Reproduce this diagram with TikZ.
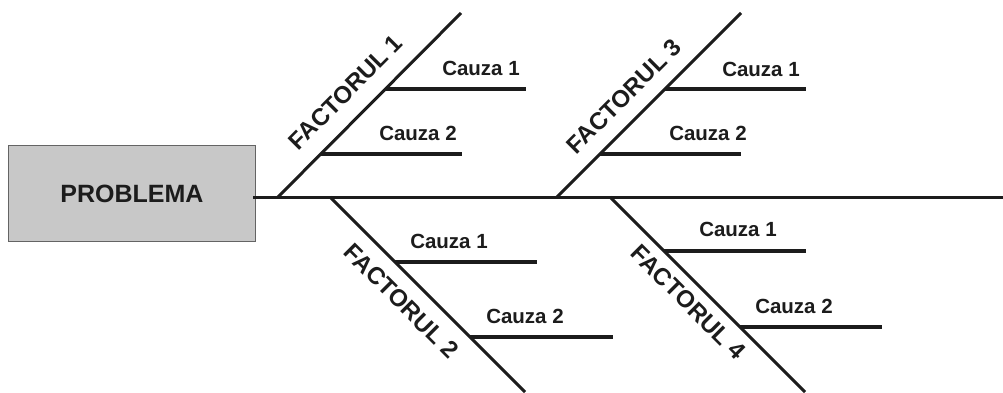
\documentclass[tikz,border=0pt]{standalone}
\usepackage{fontspec}
\setmainfont{Liberation Sans}
\definecolor{ink}{RGB}{28,28,28}
\definecolor{boxfill}{RGB}{200,200,200}
\definecolor{boxline}{RGB}{100,100,100}
\begin{document}
\begin{tikzpicture}[x=1pt,y=-1pt,
  causetext/.style={font=\bfseries\fontsize{20.5}{24}\selectfont, text=ink, inner sep=0pt, anchor=base},
  factortext/.style={font=\bfseries\fontsize{24}{28}\selectfont, text=ink, inner sep=0pt, sloped},
  spineline/.style={draw=ink, line width=3pt},
  boneline/.style={draw=ink, line width=3pt},
  causeline/.style={draw=ink, line width=4pt},
  problembox/.style={draw=boxline, fill=boxfill, line width=1pt, minimum width=247pt, minimum height=96pt, inner sep=0pt, font=\bfseries\fontsize{25}{28}\selectfont, text=ink}]
\useasboundingbox (0,0) rectangle (1003,392);
\fill[white] (0,0) rectangle (1003,392);
% problem box
\node[problembox] (prob) at (132,193.5) {PROBLEMA};
% spine
\coordinate (s1) at (1003,197);
\coordinate (s0) at (253,197);
\draw[spineline] (s0) -- (s1);
% factor bones
\coordinate (f1a) at (278,197);  \coordinate (f1b) at (461,13);
\coordinate (f2a) at (330,197);  \coordinate (f2b) at (525,392);
\coordinate (f3a) at (557,197);  \coordinate (f3b) at (741,13);
\coordinate (f4a) at (610,197);  \coordinate (f4b) at (805,392);
\draw[boneline] (f1a) -- (f1b) node[factortext, pos=0.47, above=16pt] (f1t) {FACTORUL 1};
\draw[boneline] (f2a) -- (f2b) node[factortext, pos=0.45, below=13pt] (f2t) {FACTORUL 2};
\draw[boneline] (f3a) -- (f3b) node[factortext, pos=0.455, above=14pt] (f3t) {FACTORUL 3};
\draw[boneline] (f4a) -- (f4b) node[factortext, pos=0.47, below=9pt] (f4t) {FACTORUL 4};
% causes factor 1
\coordinate (c11a) at (386,89);  \coordinate (c11b) at (526,89);
\coordinate (c12a) at (321,154); \coordinate (c12b) at (462,154);
\draw[causeline] (c11a) -- (c11b);
\draw[causeline] (c12a) -- (c12b);
\node[causetext] (t11) at (481,75) {Cauza 1};
\node[causetext] (t12) at (418,140) {Cauza 2};
% causes factor 3
\coordinate (c31a) at (665,89);  \coordinate (c31b) at (806,89);
\coordinate (c32a) at (600,154); \coordinate (c32b) at (741,154);
\draw[causeline] (c31a) -- (c31b);
\draw[causeline] (c32a) -- (c32b);
\node[causetext] (t31) at (761,76) {Cauza 1};
\node[causetext] (t32) at (708,140) {Cauza 2};
% causes factor 2
\coordinate (c21a) at (395,262); \coordinate (c21b) at (537,262);
\coordinate (c22a) at (470,337); \coordinate (c22b) at (613,337);
\draw[causeline] (c21a) -- (c21b);
\draw[causeline] (c22a) -- (c22b);
\node[causetext] (t21) at (449,248) {Cauza 1};
\node[causetext] (t22) at (525,323) {Cauza 2};
% causes factor 4
\coordinate (c41a) at (664,251); \coordinate (c41b) at (806,251);
\coordinate (c42a) at (740,327); \coordinate (c42b) at (882,327);
\draw[causeline] (c41a) -- (c41b);
\draw[causeline] (c42a) -- (c42b);
\node[causetext] (t41) at (738,236) {Cauza 1};
\node[causetext] (t42) at (794,313) {Cauza 2};
\end{tikzpicture}
\end{document}
